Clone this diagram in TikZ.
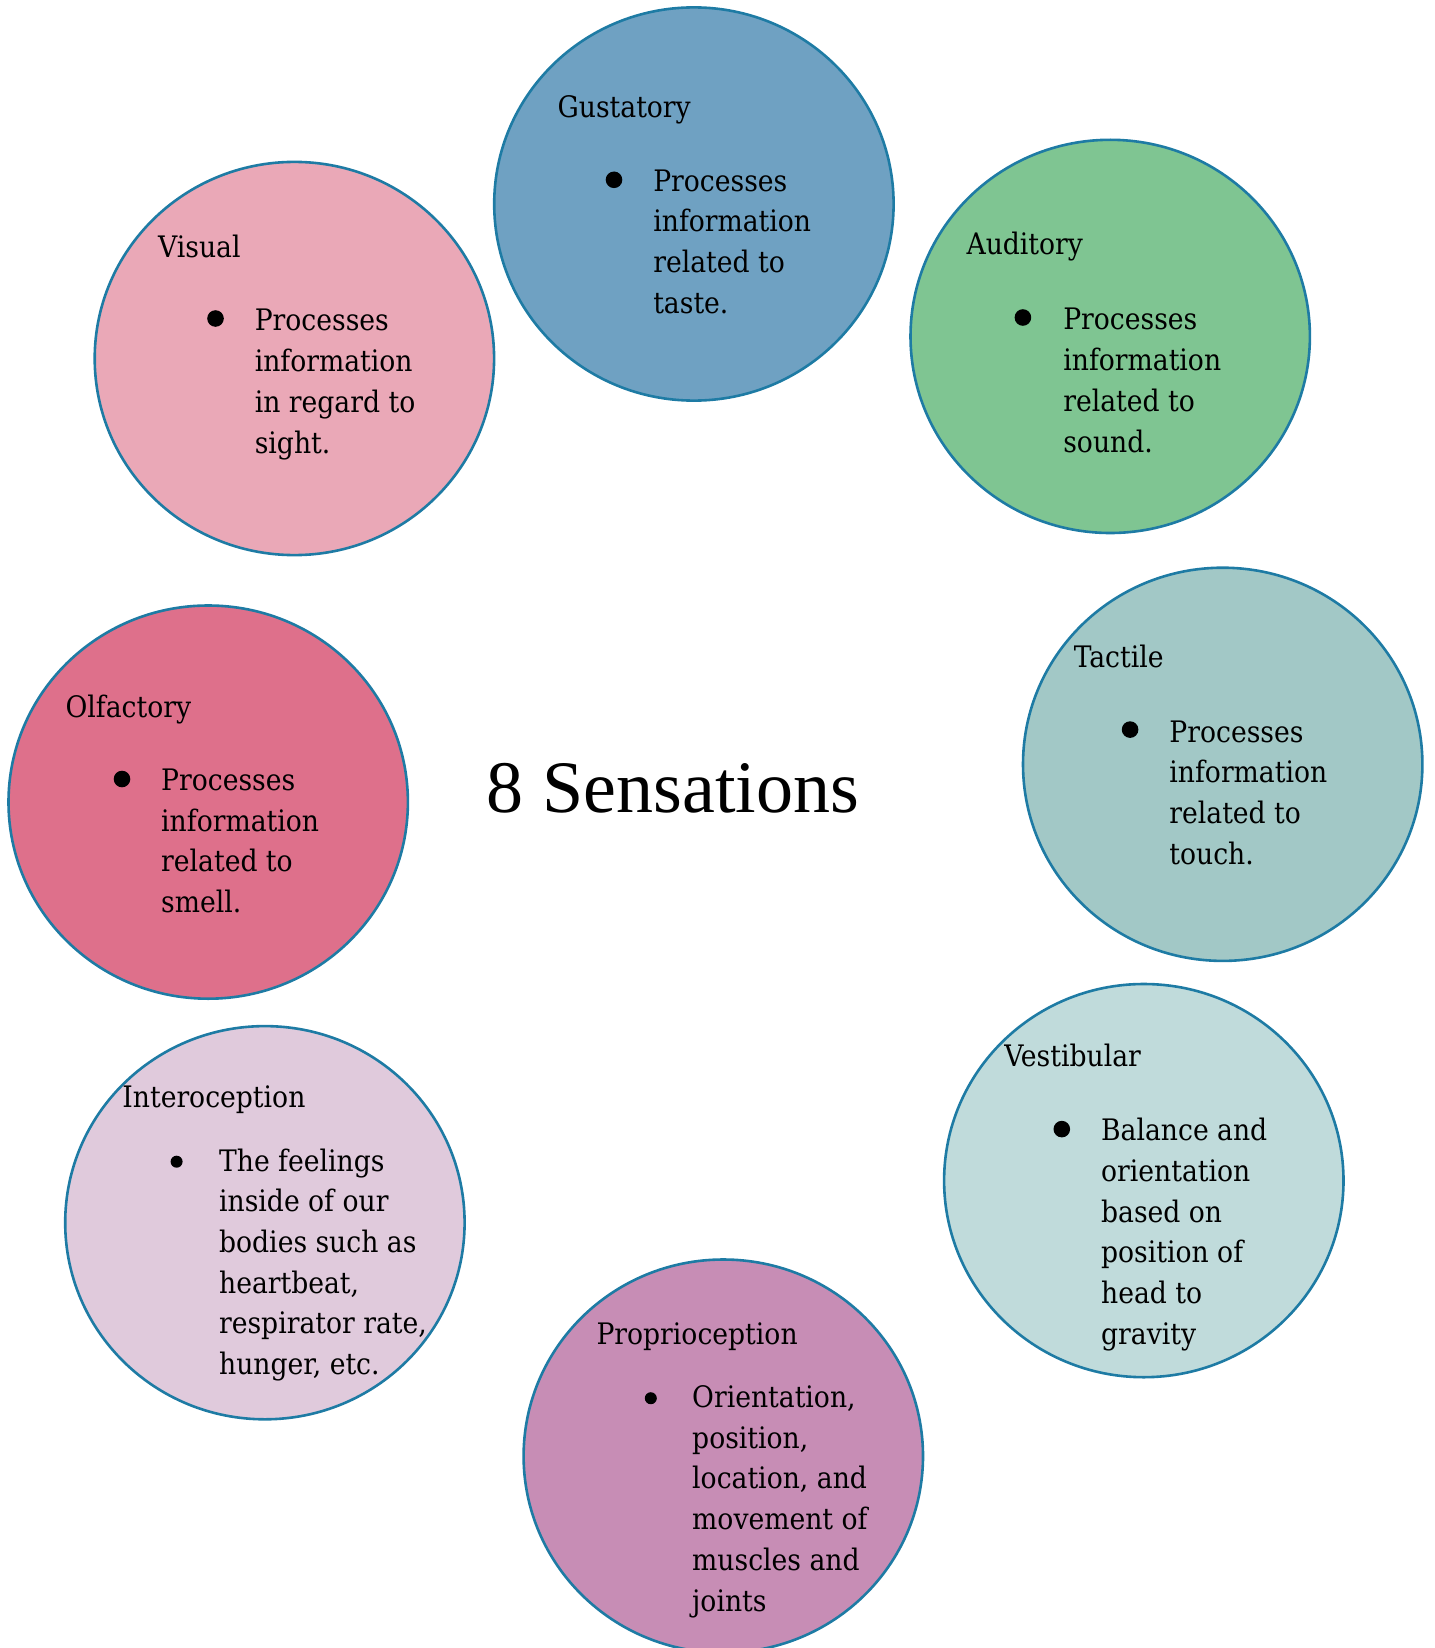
\documentclass[tikz,border=0pt]{standalone}
\usepackage{fontspec}
\setmainfont{DejaVu Serif Condensed}
\newfontfamily\titlefont{Liberation Serif}
\usetikzlibrary{shapes.geometric}
\definecolor{cborder}{HTML}{1E7BA4}
\definecolor{cgust}{HTML}{6FA1C2}
\definecolor{cvis}{HTML}{EAA8B7}
\definecolor{caud}{HTML}{7FC592}
\definecolor{colf}{HTML}{DE708B}
\definecolor{ctact}{HTML}{A2C8C6}
\definecolor{cint}{HTML}{E0CADC}
\definecolor{cvest}{HTML}{C0DBDB}
\definecolor{cprop}{HTML}{C78DB5}
\tikzset{
  sense/.style={ellipse, draw=cborder, line width=1.3pt, minimum width=199.7pt, minimum height=196.6pt, inner sep=0pt},
  head/.style={anchor=base west, inner sep=0pt, font=\fontsize{14.8}{20.35}\selectfont},
  body/.style={anchor=north west, inner sep=0pt, align=left, font=\fontsize{14.8}{20.35}\selectfont},
  bigdot/.style={circle, fill=black, inner sep=0pt, minimum size=8.3pt},
  smalldot/.style={circle, fill=black, inner sep=0pt, minimum size=6pt},
}
\begin{document}
\begin{tikzpicture}[x=0.5pt, y=-0.5pt]
\useasboundingbox (0,0) rectangle (1434,1648);
% circles
\node[sense, fill=cgust] (gust) at (693.9,204.0) {};
\node[sense, fill=cvis] (vis) at (294.4,358.5) {};
\node[sense, fill=caud] (aud) at (1110.2,336.4) {};
\node[sense, fill=colf] (olf) at (208.2,802.1) {};
\node[sense, fill=ctact] (tact) at (1222.7,764.3) {};
\node[sense, fill=cint] (int) at (264.9,1222.7) {};
\node[sense, fill=cvest] (vest) at (1143.8,1180.6) {};
\node[sense, fill=cprop] (prop) at (723.3,1456.1) {};
% title
\node[inner sep=0pt, font=\titlefont\fontsize{37}{42}\selectfont] (title) at (673,788) {8 Sensations};
% Gustatory
\node[head] (gustH) at (557.2,117.2) {Gustatory};
\node[bigdot] (gustB) at (614,179.8) {};
\node[body] (gustT) at (652.9,162.3) {\strut Processes\\information\\related to\\taste.};
% Visual
\node[head] (visH) at (157.7,257.0) {Visual};
\node[bigdot] (visB) at (215.5,318.5) {};
\node[body] (visT) at (254.4,302.1) {\strut Processes\\information\\in regard to\\sight.};
% Auditory
\node[head] (audH) at (966.1,254.9) {Auditory};
\node[bigdot] (audB) at (1022.9,317.5) {};
\node[body] (audT) at (1062.9,301.1) {\strut Processes\\information\\related to\\sound.};
% Olfactory
\node[head] (olfH) at (65.2,717.5) {Olfactory};
\node[bigdot] (olfB) at (122.0,779.0) {};
\node[body] (olfT) at (160.8,761.5) {\strut Processes\\information\\related to\\smell.};
% Tactile
\node[head] (tactH) at (1073.4,667.0) {Tactile};
\node[bigdot] (tactB) at (1130.1,729.6) {};
\node[body] (tactT) at (1169.0,713.2) {\strut Processes\\information\\related to\\touch.};
% Interoception
\node[head] (intH) at (122.0,1107.5) {Interoception};
\node[smalldot] (intB) at (176.6,1161.7) {};
\node[body] (intT) at (218.7,1142.1) {\strut The feelings\\inside of our\\bodies such as\\heartbeat,\\respirator rate,\\hunger, etc.};
% Vestibular
\node[head] (vestH) at (1004.0,1066.5) {Vestibular};
\node[bigdot] (vestB) at (1061.8,1129.1) {};
\node[body] (vestT) at (1100.7,1111.7) {\strut Balance and\\orientation\\based on\\position of\\head to\\gravity};
% Proprioception
\node[head] (propH) at (596.1,1344.0) {Proprioception};
\node[smalldot] (propB) at (650.8,1398.2) {};
\node[body] (propT) at (691.8,1378.6) {\strut Orientation,\\position,\\location, and\\movement of\\muscles and\\joints};
\end{tikzpicture}
\end{document}
